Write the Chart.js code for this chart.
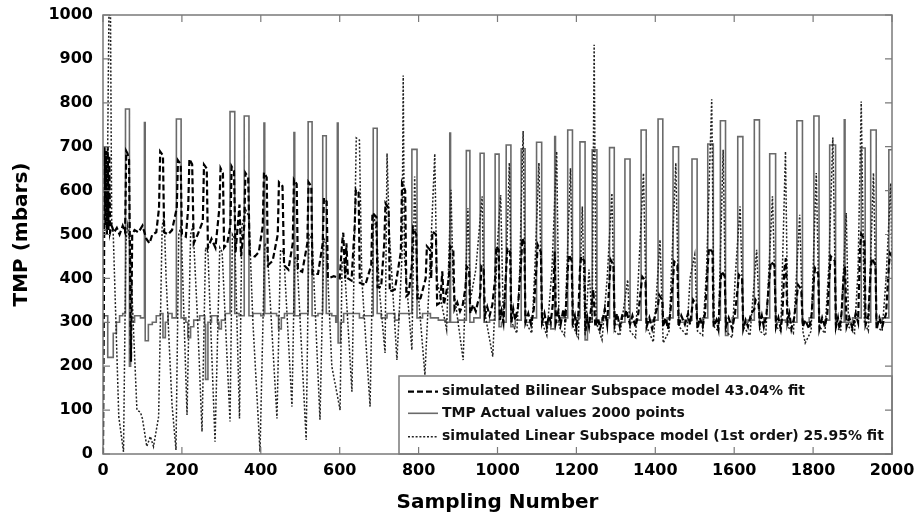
<!DOCTYPE html>
<html>
<head>
<meta charset="utf-8">
<script src="https://cdn.jsdelivr.net/npm/chart.js@4.4.1/dist/chart.umd.min.js"></script>
<style>
  html, body { margin: 0; padding: 0; background: #fff; }
</style>
</head>
<body>
<canvas id="tmp-chart" width="915" height="518"></canvas>
<script>
// TMP actual values (step signal: value changes at each x)
const actualX = [
  0, 12, 26, 34, 42, 50, 57, 67, 70, 80,
  95, 105, 107, 115, 125, 135, 145, 152, 158, 165,
  175, 186, 198, 210, 215, 222, 230, 245, 258, 260,
  266, 275, 290, 294, 300, 310, 322, 334, 345, 358,
  370, 380, 400, 408, 410, 440, 445, 452, 460, 484,
  486, 500, 520, 530, 545, 557, 566, 580, 590, 594,
  596, 602, 610, 650, 660, 685, 695, 705, 720, 740,
  750, 783, 796, 810, 830, 850, 870, 879, 881, 900,
  921, 930, 940, 956, 966, 980, 994, 1004, 1010, 1022,
  1034, 1045, 1060, 1070, 1085, 1099, 1112, 1125, 1135, 1145,
  1147, 1160, 1178, 1190, 1200, 1209, 1222, 1228, 1240, 1252,
  1265, 1284, 1296, 1310, 1323, 1336, 1350, 1364, 1377, 1392,
  1407, 1419, 1430, 1445, 1459, 1475, 1493, 1506, 1520, 1533,
  1547, 1555, 1565, 1578, 1584, 1595, 1609, 1622, 1635, 1651,
  1664, 1675, 1690, 1705, 1720, 1730, 1759, 1773, 1790, 1802,
  1815, 1830, 1842, 1857, 1868, 1879, 1881, 1900, 1922, 1932,
  1946, 1960, 1975, 1992, 2000
];
const actualY = [
  315, 220, 275, 300, 315, 320, 786, 200, 300, 315,
  310, 755, 258, 295, 300, 315, 320, 265, 300, 320,
  310, 763, 310, 300, 265, 290, 305, 315, 295, 170,
  300, 315, 300, 285, 305, 320, 780, 320, 315, 770,
  315, 320, 315, 754, 320, 315, 285, 310, 320, 732,
  315, 320, 757, 315, 320, 725, 320, 315, 300, 754,
  253, 300, 320, 310, 315, 742, 320, 310, 320, 305,
  320, 694, 310, 320, 310, 305, 300, 731, 300, 305,
  691, 300, 310, 685, 300, 305, 683, 290, 300, 704,
  290, 305, 695, 300, 310, 710, 300, 295, 285, 723,
  300, 310, 738, 295, 310, 711, 260, 300, 693, 300,
  310, 698, 295, 300, 672, 300, 305, 738, 300, 305,
  763, 300, 310, 700, 300, 305, 672, 300, 310, 706,
  300, 305, 759, 270, 300, 310, 723, 300, 305, 761,
  300, 310, 684, 300, 305, 300, 759, 300, 310, 770,
  300, 305, 704, 295, 300, 761, 300, 310, 697, 300,
  738, 300, 310, 693, 693
];

// simulated Bilinear Subspace model
const bilinearX = [
  0, 2, 4, 6, 8, 10, 12, 14, 16, 18,
  22, 28, 35, 42, 50, 56, 59, 62, 66, 71,
  74, 80, 90, 100, 110, 118, 125, 135, 142, 145,
  152, 155, 165, 175, 187, 190, 197, 200, 210, 216,
  219, 226, 230, 240, 253, 256, 263, 266, 275, 285,
  295, 298, 304, 307, 315, 323, 326, 332, 336, 346,
  350, 358, 361, 368, 372, 385, 395, 405, 408, 415,
  418, 430, 443, 446, 455, 459, 470, 481, 484, 491,
  494, 505, 518, 521, 528, 531, 545, 557, 560, 567,
  570, 585, 600, 606, 609, 614, 617, 621, 630, 638,
  641, 648, 651, 665, 680, 683, 693, 696, 705, 713,
  716, 724, 727, 740, 755, 758, 766, 769, 775, 783,
  786, 794, 797, 805, 818, 821, 829, 832, 835, 844,
  847, 855, 860, 864, 877, 880, 888, 891, 898, 905,
  912, 919, 922, 928, 931, 938, 945, 950, 956, 959,
  965, 968, 974, 980, 987, 994, 997, 1003, 1006, 1010,
  1015, 1022, 1025, 1032, 1035, 1040, 1045, 1052, 1060, 1063,
  1068, 1071, 1078, 1085, 1092, 1099, 1102, 1110, 1113, 1119,
  1125, 1130, 1135, 1140, 1145, 1148, 1154, 1160, 1167, 1172,
  1178, 1181, 1188, 1191, 1196, 1200, 1205, 1209, 1212, 1220,
  1223, 1228, 1232, 1237, 1243, 1248, 1255, 1260, 1265, 1272,
  1278, 1284, 1287, 1294, 1297, 1303, 1310, 1316, 1323, 1326,
  1336, 1342, 1350, 1357, 1364, 1367, 1375, 1378, 1385, 1392,
  1399, 1407, 1410, 1418, 1420, 1426, 1432, 1438, 1445, 1448,
  1456, 1459, 1466, 1475, 1483, 1488, 1493, 1496, 1504, 1507,
  1513, 1520, 1526, 1533, 1536, 1545, 1548, 1555, 1560, 1565,
  1568, 1576, 1579, 1586, 1595, 1602, 1609, 1612, 1620, 1623,
  1629, 1635, 1643, 1651, 1654, 1662, 1665, 1670, 1675, 1682,
  1690, 1693, 1702, 1706, 1712, 1718, 1722, 1727, 1731, 1735,
  1740, 1745, 1752, 1759, 1762, 1770, 1774, 1780, 1790, 1796,
  1802, 1805, 1813, 1816, 1823, 1830, 1836, 1842, 1845, 1855,
  1858, 1863, 1867, 1872, 1877, 1881, 1885, 1892, 1900, 1908,
  1914, 1919, 1922, 1930, 1933, 1940, 1946, 1949, 1958, 1961,
  1968, 1975, 1985, 1992, 1995, 2000
];
const bilinearY = [
  0, 300, 700, 520, 690, 500, 700, 510, 680, 505,
  520, 505, 515, 500, 520, 505, 690, 685, 670, 210,
  500, 510, 505, 520, 490, 480, 500, 505, 560, 689,
  680, 505, 500, 510, 560, 669, 660, 500, 495, 560,
  672, 660, 480, 500, 530, 659, 650, 470, 490, 470,
  560, 651, 640, 470, 480, 520, 655, 645, 460, 568,
  450, 520, 640, 630, 455, 450, 460, 520, 641, 630,
  430, 440, 500, 619, 610, 430, 420, 480, 625, 615,
  420, 415, 480, 619, 610, 410, 410, 480, 583, 575,
  400, 405, 400, 480, 504, 400, 480, 400, 395, 520,
  602, 595, 390, 385, 430, 549, 540, 380, 380, 480,
  571, 560, 370, 375, 460, 617, 600, 360, 365, 430,
  514, 500, 350, 355, 400, 473, 465, 400, 507, 500,
  340, 345, 416, 340, 400, 473, 465, 330, 345, 325,
  340, 380, 427, 420, 320, 340, 325, 345, 360, 427,
  420, 315, 335, 315, 340, 400, 473, 465, 305, 325,
  300, 420, 469, 460, 300, 330, 305, 335, 440, 492,
  480, 300, 320, 295, 330, 430, 476, 460, 300, 320,
  290, 315, 300, 340, 461, 300, 325, 295, 330, 300,
  420, 454, 440, 300, 315, 285, 320, 420, 450, 440,
  280, 310, 290, 330, 374, 290, 310, 285, 300, 330,
  295, 400, 442, 430, 295, 320, 290, 315, 310, 328,
  295, 315, 290, 320, 380, 404, 395, 290, 310, 285,
  315, 340, 362, 350, 290, 310, 285, 320, 400, 438,
  430, 290, 315, 295, 320, 295, 330, 351, 340, 285,
  310, 290, 320, 430, 469, 460, 290, 305, 285, 390,
  416, 405, 290, 310, 285, 320, 380, 408, 400, 285,
  305, 290, 320, 330, 351, 340, 295, 315, 290, 320,
  410, 438, 430, 290, 310, 285, 315, 420, 446, 300,
  320, 285, 310, 360, 385, 375, 290, 305, 285, 315,
  400, 423, 410, 285, 310, 290, 320, 420, 450, 440,
  290, 310, 285, 320, 400, 427, 290, 310, 285, 320,
  300, 470, 501, 490, 295, 315, 420, 446, 430, 285,
  310, 290, 320, 430, 457, 450
];

// simulated Linear Subspace model (1st order)
const linearX = [
  0, 10, 15, 19, 22, 26, 40, 52, 58, 62,
  68, 86, 95, 100, 111, 120, 128, 141, 150, 155,
  160, 175, 185, 192, 198, 213, 222, 228, 240, 251,
  260, 266, 284, 296, 302, 322, 328, 334, 346, 352,
  362, 370, 380, 398, 410, 416, 441, 450, 458, 479,
  486, 492, 515, 522, 530, 550, 560, 566, 580, 601,
  606, 612, 631, 642, 650, 656, 677, 686, 694, 700,
  715, 720, 726, 745, 758, 761, 764, 783, 790, 796,
  816, 830, 841, 846, 871, 882, 888, 913, 925, 931,
  945, 961, 966, 988, 1000, 1008, 1015, 1022, 1030, 1036,
  1049, 1056, 1065, 1071, 1087, 1095, 1105, 1113, 1125, 1138,
  1150, 1156, 1170, 1185, 1192, 1205, 1215, 1222, 1232, 1240,
  1245, 1250, 1265, 1278, 1290, 1297, 1310, 1330, 1336, 1350,
  1358, 1370, 1378, 1395, 1412, 1420, 1435, 1452, 1460, 1480,
  1488, 1500, 1507, 1520, 1530, 1543, 1549, 1560, 1572, 1579,
  1595, 1603, 1615, 1623, 1640, 1657, 1665, 1680, 1697, 1706,
  1718, 1730, 1736, 1750, 1766, 1774, 1780, 1795, 1808, 1816,
  1830, 1840, 1850, 1858, 1870, 1884, 1890, 1905, 1914, 1922,
  1930, 1940, 1953, 1961, 1975, 1985, 1997, 2000
];
const linearY = [
  500, 520, 1000, 1000, 530, 500, 85, 5, 480, 520,
  480, 100, 95, 80, 17, 40, 17, 85, 520, 540,
  400, 112, 9, 500, 520, 89, 500, 520, 300, 51,
  470, 460, 28, 470, 460, 74, 500, 490, 81, 520,
  556, 540, 300, 5, 480, 470, 81, 465, 460, 108,
  450, 440, 32, 500, 490, 78, 490, 480, 200, 100,
  440, 430, 142, 720, 715, 400, 108, 549, 500, 380,
  230, 685, 500, 214, 450, 862, 450, 237, 632, 400,
  180, 450, 684, 400, 283, 602, 380, 214, 560, 350,
  420, 587, 330, 222, 480, 590, 300, 420, 663, 300,
  275, 410, 736, 300, 275, 430, 663, 300, 270, 420,
  689, 290, 270, 651, 290, 265, 564, 270, 420, 300,
  932, 300, 260, 400, 594, 280, 270, 397, 280, 265,
  420, 640, 290, 255, 488, 253, 280, 663, 290, 270,
  400, 454, 280, 270, 420, 808, 290, 280, 693, 280,
  265, 410, 564, 290, 270, 465, 280, 270, 587, 290,
  280, 689, 290, 275, 545, 280, 253, 280, 640, 290,
  275, 430, 721, 290, 280, 549, 290, 275, 420, 803,
  300, 280, 640, 290, 280, 400, 617, 420
];

const xTicks = [0, 200, 400, 600, 800, 1000, 1200, 1400, 1600, 1800, 2000];
const yTicks = [0, 100, 200, 300, 400, 500, 600, 700, 800, 900, 1000];

const legendLabels = [
  'simulated Bilinear Subspace model 43.04% fit',
  'TMP Actual values 2000 points',
  'simulated Linear Subspace model (1st order) 25.95% fit'
];

function pts(xs, ys) {
  return xs.map((x, i) => ({ x: x, y: ys[i] }));
}

const boldFont = size => ({ family: '"DejaVu Sans", sans-serif', size: size, weight: 'bold' });

// matlab style box: frame, inward ticks, legend with white background
const matlabBox = {
  id: 'matlabBox',
  afterDatasetsDraw(chart) {
    const ctx = chart.ctx;
    const a = chart.chartArea;
    const xs = chart.scales.x, ys = chart.scales.y;
    ctx.save();

    // legend
    const lx = a.right - 493, ly = a.bottom - 78;
    ctx.fillStyle = '#fff';
    ctx.fillRect(lx, ly, a.right - lx, a.bottom - ly);
    ctx.strokeStyle = '#7a7a7a';
    ctx.lineWidth = 1.5;
    ctx.setLineDash([]);
    ctx.strokeRect(lx, ly, a.right - lx, a.bottom - ly);
    const rowY = [15.7, 37.3, 60.7];
    ctx.font = 'bold 14px "DejaVu Sans"';
    ctx.textBaseline = 'middle';
    chart.data.datasets.forEach((ds, i) => {
      const yy = ly + rowY[i];
      ctx.beginPath();
      ctx.setLineDash(ds.borderDash || []);
      ctx.strokeStyle = ds.borderColor;
      ctx.lineWidth = ds.borderWidth;
      ctx.moveTo(lx + 9, yy);
      ctx.lineTo(lx + 39, yy);
      ctx.stroke();
      ctx.setLineDash([]);
      ctx.fillStyle = '#111';
      ctx.fillText(legendLabels[i], lx + 43, yy);
    });

    // frame + inward ticks
    ctx.strokeStyle = '#7a7a7a';
    ctx.lineWidth = 1.5;
    ctx.strokeRect(a.left, a.top, a.right - a.left, a.bottom - a.top);
    ctx.lineWidth = 1.2;
    ctx.beginPath();
    xTicks.forEach(v => {
      const px = xs.getPixelForValue(v);
      ctx.moveTo(px, a.bottom); ctx.lineTo(px, a.bottom - 7);
      ctx.moveTo(px, a.top); ctx.lineTo(px, a.top + 7);
    });
    yTicks.forEach(v => {
      const py = ys.getPixelForValue(v);
      ctx.moveTo(a.left, py); ctx.lineTo(a.left + 7, py);
      ctx.moveTo(a.right, py); ctx.lineTo(a.right - 7, py);
    });
    ctx.stroke();
    ctx.restore();
  }
};

const ctx = document.getElementById('tmp-chart').getContext('2d');
const TMPChart = new Chart(ctx, {
  type: 'line',
  data: {
    datasets: [{
      label: legendLabels[0],
      data: pts(bilinearX, bilinearY),
      borderColor: '#000',
      borderWidth: 2.2,
      borderDash: [6, 3],
      order: 0
    }, {
      label: legendLabels[1],
      data: pts(actualX, actualY),
      borderColor: '#6a6a6a',
      borderWidth: 1.6,
      stepped: true,
      order: 2
    }, {
      label: legendLabels[2],
      data: pts(linearX, linearY),
      borderColor: '#222',
      borderWidth: 1.5,
      borderDash: [2, 1.8],
      order: 1
    }]
  },
  options: {
    responsive: false,
    animation: false,
    layout: { padding: { top: 15, right: 23, bottom: 0, left: 0 } },
    elements: { point: { radius: 0 }, line: { tension: 0, fill: false } },
    plugins: { legend: { display: false }, tooltip: { enabled: false } },
    scales: {
      x: {
        type: 'linear',
        min: 0,
        max: 2000,
        grid: { display: false, drawTicks: false },
        border: { display: false },
        ticks: { stepSize: 200, padding: 7, maxRotation: 0, color: '#000', font: boldFont(16), callback: v => String(v) },
        title: { display: true, text: 'Sampling Number', color: '#000', font: boldFont(20), padding: { top: 0, bottom: 3 } },
        afterFit: s => { s.height = 64; s.paddingLeft = 0; s.paddingRight = 0; }
      },
      y: {
        type: 'linear',
        min: 0,
        max: 1000,
        grid: { display: false, drawTicks: false },
        border: { display: false },
        ticks: { stepSize: 100, padding: 10, color: '#000', font: boldFont(16), callback: v => String(v) },
        title: { display: true, text: 'TMP (mbars)', color: '#000', font: boldFont(20), padding: { top: 10, bottom: 0 } },
        afterFit: s => { s.width = 103; s.paddingTop = 0; s.paddingBottom = 0; }
      }
    }
  },
  plugins: [matlabBox]
});
</script>
</body>
</html>
